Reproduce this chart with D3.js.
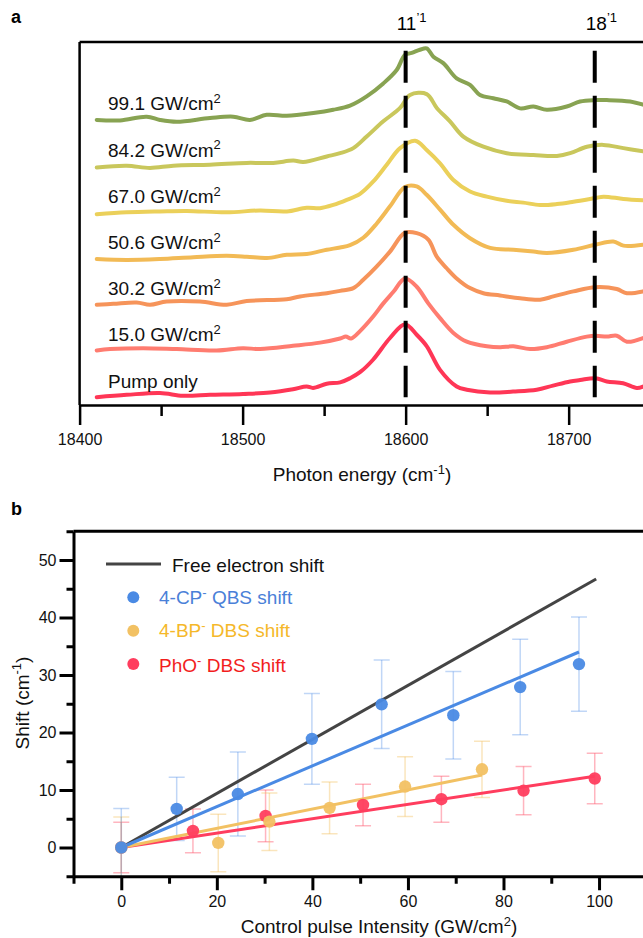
<!DOCTYPE html>
<html>
<head>
<meta charset="utf-8">
<script src="https://cdn.jsdelivr.net/npm/d3@7"></script>
<style>
  body { margin: 0; background: #fff; }
  svg { font-family: "Liberation Sans", Arial, sans-serif; }
</style>
</head>
<body>
<div id="chart"></div>
<script>
// ---------- panel a : spectra ----------
const energyTicks = [18400, 18500, 18600, 18700]
const energyMinorTicks = [18450, 18550, 18650]
const peakEnergies = [18600, 18716]
const peakNames = ["11", "18"]
const traceLabels = ["Pump only", "15.0", "30.2", "50.6", "67.0", "84.2", "99.1"]

// [photon energy (cm-1), intensity above the trace baseline]
const pumpOnly = [[18410.5,0.00],[18428.9,0.05],[18449.3,0.09],[18463.4,0.03],[18480.0,0.05],[18500.2,0.07],[18516.8,0.10],[18530.9,0.17],[18539.3,0.23],[18543.2,0.20],[18551.6,0.29],[18559.8,0.32],[18565.9,0.41],[18572.0,0.54],[18580.0,0.81],[18590.4,1.28],[18599.6,1.58],[18606.8,1.35],[18613.0,1.10],[18621.1,0.59],[18631.3,0.23],[18637.5,0.16],[18651.8,0.10],[18665.9,0.12],[18680.4,0.16],[18690.4,0.25],[18700.9,0.34],[18707.0,0.37],[18716.4,0.41],[18723.4,0.34],[18733.4,0.30],[18741.8,0.20],[18745.6,0.23]]
const gw15 = [[18410.5,0.01],[18418.7,0.04],[18438.9,0.06],[18459.6,0.04],[18484.1,0.01],[18500.2,0.06],[18510.7,0.04],[18530.9,0.11],[18547.5,0.18],[18559.8,0.27],[18563.3,0.31],[18566.5,0.27],[18572.0,0.43],[18580.2,0.75],[18586.3,1.03],[18592.5,1.28],[18599.6,1.57],[18606.8,1.39],[18613.9,1.03],[18621.1,0.71],[18629.3,0.39],[18637.5,0.20],[18649.8,0.10],[18658.0,0.08],[18666.1,0.10],[18676.3,0.04],[18686.6,0.08],[18698.8,0.20],[18711.1,0.31],[18716.4,0.33],[18723.4,0.31],[18729.5,0.33],[18735.7,0.20],[18745.6,0.28]]
const gw30 = [[18410.5,0.00],[18420.7,0.02],[18435.0,0.05],[18443.2,0.00],[18453.4,0.07],[18473.9,0.07],[18490.2,0.00],[18502.5,0.08],[18527.0,0.12],[18535.2,0.18],[18551.6,0.25],[18559.8,0.30],[18567.9,0.36],[18574.0,0.54],[18582.3,0.83],[18590.4,1.15],[18599.6,1.56],[18606.8,1.55],[18613.9,1.41],[18619.1,1.04],[18625.2,0.79],[18631.3,0.57],[18639.5,0.36],[18647.7,0.25],[18657.9,0.20],[18670.2,0.14],[18682.5,0.11],[18690.6,0.18],[18702.9,0.29],[18716.4,0.38],[18729.5,0.34],[18735.7,0.25],[18745.6,0.29]]
const gw50 = [[18410.5,-0.01],[18428.9,-0.03],[18449.3,-0.01],[18469.8,0.03],[18490.2,0.06],[18502.5,0.04],[18514.8,0.01],[18527.1,0.08],[18539.3,0.10],[18551.6,0.19],[18559.8,0.24],[18565.9,0.29],[18574.0,0.45],[18582.3,0.76],[18590.4,1.13],[18599.6,1.55],[18606.8,1.56],[18612.9,1.38],[18621.1,1.06],[18629.3,0.73],[18639.5,0.44],[18651.8,0.23],[18666.1,0.19],[18678.4,0.15],[18686.6,0.12],[18702.9,0.19],[18716.4,0.30],[18727.4,0.37],[18733.6,0.28],[18745.6,0.30]]
const gw67 = [[18410.5,-0.04],[18428.9,0.00],[18449.3,0.02],[18465.7,0.03],[18490.2,0.00],[18510.7,0.04],[18527.1,0.02],[18539.3,0.10],[18547.5,0.09],[18555.6,0.16],[18563.9,0.27],[18572.0,0.40],[18580.2,0.67],[18588.4,1.03],[18596.6,1.39],[18605.8,1.55],[18612.9,1.35],[18621.1,1.06],[18629.3,0.70],[18639.5,0.45],[18649.8,0.34],[18662.0,0.25],[18672.2,0.21],[18682.5,0.16],[18692.8,0.18],[18702.9,0.23],[18716.4,0.31],[18721.4,0.34],[18733.6,0.29],[18745.6,0.26]]
const gw84 = [[18410.5,-0.03],[18428.9,0.01],[18443.2,-0.04],[18457.5,0.01],[18480.0,0.03],[18502.5,0.07],[18518.8,0.07],[18531.1,0.12],[18537.2,0.09],[18551.6,0.21],[18559.8,0.28],[18567.9,0.39],[18576.1,0.64],[18586.3,0.97],[18596.6,1.26],[18602.7,1.54],[18612.9,1.56],[18619.1,1.26],[18627.2,0.97],[18635.4,0.64],[18647.7,0.42],[18662.0,0.28],[18678.4,0.24],[18692.8,0.22],[18700.9,0.28],[18711.2,0.42],[18721.3,0.46],[18733.6,0.39],[18745.6,0.32]]
const gw99 = [[18410.5,0.00],[18424.8,-0.01],[18441.2,0.07],[18449.3,0.00],[18459.6,-0.04],[18480.0,0.04],[18494.3,0.07],[18504.5,0.00],[18514.8,0.11],[18527.1,0.09],[18543.4,0.15],[18555.6,0.22],[18565.9,0.31],[18576.1,0.51],[18586.3,0.79],[18594.5,1.08],[18599.6,1.41],[18603.7,1.45],[18608.8,1.52],[18612.9,1.55],[18617.0,1.37],[18623.1,1.23],[18631.3,0.90],[18639.5,0.76],[18645.6,0.54],[18653.8,0.47],[18662.0,0.40],[18670.2,0.25],[18678.4,0.29],[18686.6,0.22],[18698.8,0.29],[18707.0,0.40],[18716.4,0.43],[18723.4,0.43],[18737.7,0.40],[18745.6,0.33]]

const spectra = [pumpOnly, gw15, gw30, gw50, gw67, gw84, gw99]
const traceColors = ["#ff3656", "#ff7c70", "#f6945a", "#f2ba55", "#ebd05a", "#c9c75c", "#88a352"]

// ---------- panel b : shifts ----------
const cpIntensity = [0, 11.6, 24.4, 39.9, 54.5, 69.5, 83.5, 95.8]
const cpShift = [0, 6.7, 9.3, 18.9, 24.9, 23.0, 27.9, 31.9]
const cpErr = [6.8, 5.5, 7.3, 7.9, 7.7, 7.6, 8.3, 8.2]

const bpIntensity = [0, 20.3, 31.0, 43.6, 59.4, 75.5]
const bpShift = [0, 0.8, 4.5, 6.9, 10.6, 13.6]
const bpErr = [5.3, 5.0, 5.0, 4.5, 5.2, 4.9]

const phoIntensity = [0, 15.0, 30.2, 50.6, 67.0, 84.2, 99.1]
const phoShift = [0, 2.9, 5.5, 7.4, 8.4, 9.9, 12.0]
const phoErr = [4.4, 3.8, 4.5, 3.6, 4.0, 4.2, 4.4]

const freeElectronLine = [[0, 0], [99.4, 46.7]]
const cpFit = [[0, 0], [95.8, 34.0]]
const bpFit = [[0, 0], [75.5, 12.6]]
const phoFit = [[0, 0], [99.1, 12.4]]

const shiftTicks = [0, 10, 20, 30, 40, 50]
const shiftMinorTicks = [-5, 5, 15, 25, 35, 45, 55]
const intensityTicks = [0, 20, 40, 60, 80, 100]
const intensityMinorTicks = [-10, 10, 30, 50, 70, 90]

const W = 643, H = 938
const svg = d3.select("#chart").append("svg")
  .attr("width", W).attr("height", H)

const addSup = (text, main, sup, size, after) => {
  text.append("tspan").text(main)
  text.append("tspan").attr("font-size", size).attr("dy", -size * 0.55).text(sup)
  if (after) text.append("tspan").attr("dy", size * 0.55).text(after)
}

// ================= panel a =================
const xA = d3.scaleLinear().domain([18400, 18745.6]).range([79.6, W])
const yA = d3.scaleLinear().domain([-0.17, 7.687]).range([405, 42])

svg.append("text").attr("x", 11).attr("y", 23)
  .attr("font-size", 18).attr("font-weight", "bold").text("a")

svg.append("defs").append("clipPath").attr("id", "clipA")
  .append("rect").attr("x", 79.6).attr("y", 42).attr("width", W - 79.6).attr("height", 363)

const line = (i) => d3.line()
  .curve(d3.curveCatmullRom.alpha(0.5))
  .x(d => xA(d[0]))
  .y(d => yA(d[1] + i))

const gA = svg.append("g").attr("clip-path", "url(#clipA)")
gA.selectAll("path.trace")
  .data(spectra)
  .enter().append("path")
  .attr("class", "trace")
  .attr("d", (d, i) => line(i)(d))
  .attr("fill", "none")
  .attr("stroke", (d, i) => traceColors[i])
  .attr("stroke-width", 4)
  .attr("stroke-linejoin", "round")
  .attr("stroke-linecap", "round")

// trace labels
svg.selectAll("text.trace-label")
  .data(traceLabels)
  .enter().append("text")
  .attr("class", "trace-label")
  .attr("x", 108)
  .attr("y", (d, i) => yA(i) - 9.5)
  .attr("font-size", 19)
  .attr("fill", "#111")
  .each(function (d) {
    const t = d3.select(this)
    if (d === "Pump only") t.text(d)
    else addSup(t, d + " GW/cm", "2", 13)
  })

// dashed peak lines
svg.selectAll("line.peak")
  .data(peakEnergies)
  .enter().append("line")
  .attr("class", "peak")
  .attr("x1", d => xA(d)).attr("x2", d => xA(d))
  .attr("y1", yA(7.5)).attr("y2", yA(0))
  .attr("stroke", "#000")
  .attr("stroke-width", 4)
  .attr("stroke-dasharray", "32,13")

svg.selectAll("text.peak-label")
  .data(peakEnergies)
  .enter().append("text")
  .attr("class", "peak-label")
  .attr("x", d => xA(d) - 9)
  .attr("y", 29.5)
  .attr("font-size", 19)
  .each(function (d, i) { addSup(d3.select(this), peakNames[i], "\u20191", 13) })

// axes a
const axisA = svg.append("g").attr("transform", "translate(0,405)")
  .call(d3.axisBottom(xA).tickValues(energyTicks).tickSize(20).tickSizeOuter(0)
    .tickPadding(9).tickFormat(d3.format("d")))
axisA.selectAll(".tick text").attr("font-size", 16).attr("font-family", null).attr("fill", "#111")
axisA.selectAll("line, path").attr("stroke", "#000").attr("stroke-width", 2.5)

svg.append("g").attr("transform", "translate(0,405)")
  .call(d3.axisBottom(xA).tickValues(energyMinorTicks).tickSize(11).tickFormat(""))
  .call(g => g.select(".domain").remove())
  .selectAll("line").attr("stroke", "#000").attr("stroke-width", 2.5)

svg.append("line").attr("x1", 79.6).attr("x2", 79.6).attr("y1", 42).attr("y2", 405)
  .attr("stroke", "#000").attr("stroke-width", 2.5)
svg.append("line").attr("x1", 79.6).attr("x2", W).attr("y1", 42).attr("y2", 42)
  .attr("stroke", "#000").attr("stroke-width", 2.5)

const titleA = svg.append("text").attr("x", 362).attr("y", 481)
  .attr("text-anchor", "middle").attr("font-size", 19).attr("fill", "#111")
addSup(titleA, "Photon energy (cm", "-1", 13, ")")

// ================= panel b =================
const xB = d3.scaleLinear().domain([-10, 109.2]).range([73.5, W])
const yB = d3.scaleLinear().domain([-5, 55]).range([876.25, 531.25])

svg.append("text").attr("x", 11).attr("y", 515)
  .attr("font-size", 18).attr("font-weight", "bold").text("b")

svg.select("defs").append("clipPath").attr("id", "clipB")
  .append("rect").attr("x", xB(-10)).attr("y", yB(55))
  .attr("width", W - xB(-10)).attr("height", yB(-5) - yB(55))

const gB = svg.append("g").attr("clip-path", "url(#clipB)")

const series = [
  {x: phoIntensity, y: phoShift, e: phoErr, fit: phoFit, color: "#ff3d5e", bar: "rgba(255,70,95,0.4)"},
  {x: bpIntensity, y: bpShift, e: bpErr, fit: bpFit, color: "#f2c163", bar: "rgba(242,190,90,0.4)"},
  {x: cpIntensity, y: cpShift, e: cpErr, fit: cpFit, color: "#4a8ae4", bar: "rgba(74,138,228,0.35)"}
]

// error bars
series.forEach(s => {
  const rows = s.x.map((v, i) => ({x: v, y: s.y[i], e: s.e[i]}))
  const g = gB.append("g").attr("stroke", s.bar).attr("stroke-width", 1.5)
  g.selectAll("line.v").data(rows).enter().append("line")
    .attr("x1", d => xB(d.x)).attr("x2", d => xB(d.x))
    .attr("y1", d => yB(d.y + d.e)).attr("y2", d => yB(d.y - d.e))
  g.selectAll("line.top").data(rows).enter().append("line")
    .attr("x1", d => xB(d.x) - 8).attr("x2", d => xB(d.x) + 8)
    .attr("y1", d => yB(d.y + d.e)).attr("y2", d => yB(d.y + d.e))
  g.selectAll("line.bot").data(rows).enter().append("line")
    .attr("x1", d => xB(d.x) - 8).attr("x2", d => xB(d.x) + 8)
    .attr("y1", d => yB(d.y - d.e)).attr("y2", d => yB(d.y - d.e))
})

const lineB = d3.line().x(d => xB(d[0])).y(d => yB(d[1]))
gB.append("path").attr("d", lineB(freeElectronLine))
  .attr("stroke", "#444").attr("stroke-width", 3).attr("fill", "none")
series.forEach(s => {
  gB.append("path").attr("d", lineB(s.fit))
    .attr("stroke", s.color).attr("stroke-width", 3).attr("fill", "none")
})
series.forEach(s => {
  gB.append("g").selectAll("circle")
    .data(s.x.map((v, i) => [v, s.y[i]]))
    .enter().append("circle")
    .attr("cx", d => xB(d[0])).attr("cy", d => yB(d[1]))
    .attr("r", 6.2)
    .attr("fill", s.color)
    .attr("fill-opacity", 0.95)
})

// axes b
const leftB = svg.append("g").attr("transform", `translate(${xB(-10)},0)`)
  .call(d3.axisLeft(yB).tickValues(shiftTicks).tickSize(14).tickSizeOuter(0).tickPadding(3))
leftB.selectAll(".tick text").attr("font-size", 16).attr("font-family", null).attr("fill", "#111")
leftB.selectAll("line, path").attr("stroke", "#000").attr("stroke-width", 3)
svg.append("g").attr("transform", `translate(${xB(-10)},0)`)
  .call(d3.axisLeft(yB).tickValues(shiftMinorTicks).tickSize(7).tickFormat(""))
  .call(g => g.select(".domain").remove())
  .selectAll("line").attr("stroke", "#000").attr("stroke-width", 3)

const bottomB = svg.append("g").attr("transform", `translate(0,${yB(-5)})`)
  .call(d3.axisBottom(xB).tickValues(intensityTicks).tickSize(14).tickSizeOuter(0).tickPadding(5))
bottomB.selectAll(".tick text").attr("font-size", 16).attr("font-family", null).attr("fill", "#111")
bottomB.selectAll("line, path").attr("stroke", "#000").attr("stroke-width", 3)
svg.append("g").attr("transform", `translate(0,${yB(-5)})`)
  .call(d3.axisBottom(xB).tickValues(intensityMinorTicks).tickSize(7.5).tickFormat(""))
  .call(g => g.select(".domain").remove())
  .selectAll("line").attr("stroke", "#000").attr("stroke-width", 3)

svg.append("line").attr("x1", xB(-10)).attr("x2", W).attr("y1", yB(55)).attr("y2", yB(55))
  .attr("stroke", "#000").attr("stroke-width", 3)

const titleBx = svg.append("text").attr("x", 379).attr("y", 933)
  .attr("text-anchor", "middle").attr("font-size", 19).attr("fill", "#111")
addSup(titleBx, "Control pulse Intensity (GW/cm", "2", 13, ")")

const titleBy = svg.append("text").attr("transform", "translate(28.5,703) rotate(-90)")
  .attr("text-anchor", "middle").attr("font-size", 19).attr("fill", "#111")
addSup(titleBy, "Shift (cm", "-1", 13, ")")

// legend
svg.append("line").attr("x1", 106).attr("x2", 161).attr("y1", 564).attr("y2", 564)
  .attr("stroke", "#444").attr("stroke-width", 3)
svg.append("text").attr("x", 172).attr("y", 571.7).attr("font-size", 19).attr("fill", "#111")
  .text("Free electron shift")

const legendRows = [
  {name: "4-CP", rest: " QBS shift", marker: "#4a8ae4", text: "#4a80d8", cy: 597.3, by: 604},
  {name: "4-BP", rest: " DBS shift", marker: "#f2c163", text: "#f5b82a", cy: 630.7, by: 636.7},
  {name: "PhO", rest: " DBS shift", marker: "#ff3d5e", text: "#f21d1d", cy: 664, by: 671.7}
]
legendRows.forEach(r => {
  svg.append("circle").attr("cx", 133.3).attr("cy", r.cy).attr("r", 6).attr("fill", r.marker)
  const t = svg.append("text").attr("x", 159).attr("y", r.by).attr("font-size", 19).attr("fill", r.text)
  addSup(t, r.name, "-", 13, r.rest)
})
</script>
</body>
</html>
